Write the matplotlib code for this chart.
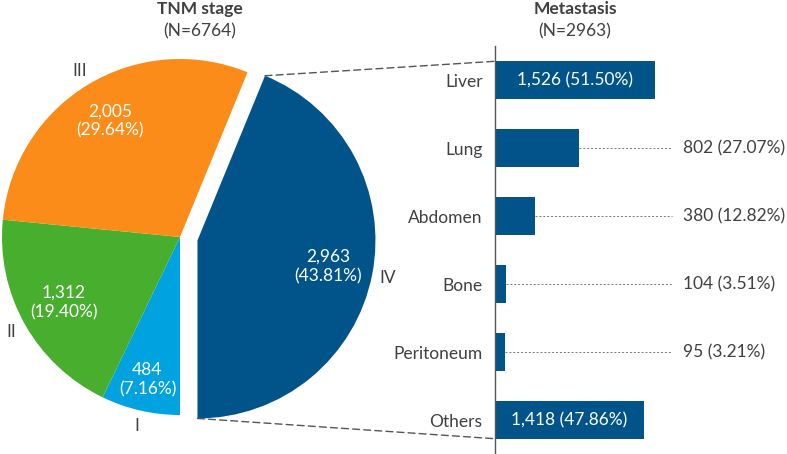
import numpy as np
import matplotlib.pyplot as plt
from matplotlib.patches import ConnectionPatch

plt.rcParams['font.family'] = ['Lato', 'DejaVu Sans']

# Datos
stages = ['I', 'II', 'III', 'IV']
stage_n = [484, 1312, 2005, 2963]
stage_colors = ['#00a3e0', '#47ae2e', '#fb8c19', '#00548a']
n_total = 6764

sites = ['Liver', 'Lung', 'Abdomen', 'Bone', 'Peritoneum', 'Others']
site_n = [1526, 802, 380, 104, 95, 1418]
n_meta = 2963

txt = '#404040'
fs = 12.5

fig = plt.figure(figsize=(7.87, 4.54), dpi=100)
W, H = 787, 454

# ---- pie ----
R = 178.0
cx, cy = 180, 237
axp = fig.add_axes([0, 14 / H, 400 / W, 400 / H])
xmin = -cx / R
ymin = -((H - cy) - 14) / R
axp.set_aspect('equal')
axp.axis('off')

explode = [0, 0, 0, 0.1]
wedges, _ = axp.pie(stage_n, colors=stage_colors, startangle=270, counterclock=False,
                    explode=explode, wedgeprops=dict(linewidth=0))
axp.set_xlim(xmin, xmin + 400 / R)
axp.set_ylim(ymin, ymin + 400 / R)

in_r = [0.82, 0.75, 0.76, 0.75]
for w, name, v, r in zip(wedges, stages, stage_n, in_r):
    th = np.radians((w.theta1 + w.theta2) / 2)
    ox, oy = w.center
    axp.text(ox + r * np.cos(th), oy + r * np.sin(th),
             f'{v:,}\n({100 * v / n_total:.2f}%)', ha='center', va='center',
             color='white', fontsize=fs, linespacing=1.25)
    axp.text(ox + 1.09 * np.cos(th), oy + 1.09 * np.sin(th), name,
             ha='center', va='center', color=txt, fontsize=fs)

# ---- barras ----
axb = fig.add_axes([495 / W, 1 / H, (W - 495) / W, 407 / H])
y = np.arange(len(sites))
axb.barh(y, site_n, height=0.55, color='#00548a')
axb.set_xlim(0, (W - 495) / 0.1049)
axb.set_ylim(5.485, -0.5)
axb.set_yticks(y)
axb.set_yticklabels(sites, color=txt, fontsize=fs)
axb.tick_params(axis='y', length=0, pad=9)
axb.set_xticks([])
for s in ['top', 'right', 'bottom']:
    axb.spines[s].set_visible(False)
axb.spines['left'].set_color('#555555')
axb.spines['left'].set_linewidth(1.0)

for i, v in enumerate(site_n):
    lab = f'{v:,} ({100 * v / n_meta:.2f}%)'
    if v > 1000:
        axb.text(v / 2, i, lab, ha='center', va='center', color='white', fontsize=fs)
    else:
        axb.plot([v, 1687], [i, i], linestyle=(0, (2, 2)), color='#777777', linewidth=0.7)
        axb.text(1792, i, lab, ha='left', va='center', color=txt, fontsize=fs)

# ---- líneas de conexión ----
w4 = wedges[3]
ox, oy = w4.center
t1 = np.radians(w4.theta2)
t2 = np.radians(w4.theta1)
p_top = (ox + np.cos(t1), oy + np.sin(t1))
p_bot = (ox + np.cos(t2), oy + np.sin(t2))
if p_top[1] < p_bot[1]:
    p_top, p_bot = p_bot, p_top
for pa, pb in [(p_top, (0, -0.275)), (p_bot, (0, 5.275))]:
    con = ConnectionPatch(xyA=pa, coordsA=axp.transData, xyB=pb, coordsB=axb.transData,
                          linestyle=(0, (5, 3)), color='#555555', linewidth=1.0)
    fig.add_artist(con)

# ---- títulos ----
fig.text(200 / W, 1 - 9 / H, 'TNM stage', ha='center', va='center', fontsize=fs,
         fontweight='bold', color=txt)
fig.text(200 / W, 1 - 31 / H, '(N=6764)', ha='center', va='center', fontsize=fs, color=txt)
fig.text(575 / W, 1 - 9 / H, 'Metastasis', ha='center', va='center', fontsize=fs,
         fontweight='bold', color=txt)
fig.text(575 / W, 1 - 31 / H, '(N=2963)', ha='center', va='center', fontsize=fs, color=txt)

plt.savefig('out.png', dpi=100)
